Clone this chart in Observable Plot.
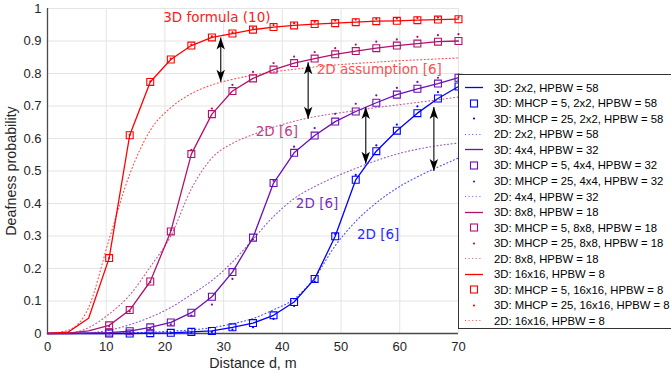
<!DOCTYPE html>
<html><head><meta charset="utf-8">
<script src="https://cdn.jsdelivr.net/npm/d3@7"></script>
<script src="https://cdn.jsdelivr.net/npm/@observablehq/plot@0.6"></script>
<style>
html,body{margin:0;padding:0;background:#fff;overflow:hidden}
#wrap{position:relative;width:671px;height:373px;font-family:"Liberation Sans",Arial,sans-serif}
#legend{position:absolute;left:458px;top:74px;width:240px;height:255px;border:1px solid #333;background:#fff;box-sizing:border-box;overflow:hidden}
.row{position:absolute;left:0;height:15px;display:flex;align-items:center;font-size:11.3px;color:#000;white-space:nowrap}
.row svg{width:30px;height:15px;margin-left:4px;margin-right:1px;flex:none}
svg g[aria-label="x-axis label"] text, svg g[aria-label="y-axis label"] text{font-size:14.3px}
</style></head>
<body><div id="wrap"><div id="plot"></div><div id="legend"></div></div>
<script>
// ---- data ----
const distance = [0,3.5,7,10.5,14,17.5,21,24.5,28,31.5,35,38.5,42,45.5,49,52.5,56,59.5,63,66.5,70];
const markerDistance = [10.5,14,17.5,21,24.5,28,31.5,35,38.5,42,45.5,49,52.5,56,59.5,63,66.5,70];

// 2x2, HPBW = 58
const blue3D   = [0,0,0,0,0,0.001,0.002,0.005,0.008,0.019,0.032,0.056,0.097,0.168,0.299,0.473,0.561,0.624,0.678,0.723,0.760];
const blue25   = [0,0,0,0.001,0.003,0.005,0.012,0.019,0.045,0.085,0.160,0.306,0.488,0.579,0.643,0.699,0.743,0.780];
const blue2D   = [0,0,0,0.001,0.002,0.004,0.007,0.011,0.018,0.030,0.046,0.073,0.106,0.172,0.270,0.345,0.402,0.447,0.482,0.512,0.540];
// 4x4, HPBW = 32
const purple3D = [0,0,0.001,0.003,0.007,0.019,0.034,0.064,0.113,0.189,0.295,0.463,0.556,0.609,0.652,0.683,0.710,0.735,0.753,0.769,0.787];
const purple25 = [0.001,0.004,0.015,0.028,0.055,0.089,0.168,0.290,0.470,0.575,0.632,0.676,0.707,0.733,0.756,0.774,0.787,0.797];
const purple2D = [0,0,0.002,0.010,0.027,0.050,0.080,0.120,0.163,0.220,0.290,0.360,0.415,0.452,0.482,0.508,0.532,0.552,0.567,0.578,0.586];
// 8x8, HPBW = 18
const magenta3D = [0,0.001,0.008,0.025,0.072,0.160,0.314,0.552,0.675,0.746,0.785,0.812,0.832,0.846,0.859,0.869,0.878,0.886,0.892,0.898,0.900];
const magenta25 = [0.022,0.068,0.158,0.318,0.565,0.692,0.765,0.805,0.832,0.852,0.866,0.878,0.889,0.898,0.905,0.913,0.918,0.921];
const magenta2D = [0,0.001,0.018,0.060,0.118,0.205,0.300,0.445,0.540,0.585,0.612,0.635,0.653,0.667,0.677,0.686,0.695,0.703,0.711,0.719,0.728];
// 16x16, HPBW = 8
const red3D   = [0,0.004,0.047,0.232,0.610,0.774,0.843,0.886,0.911,0.923,0.935,0.943,0.948,0.952,0.955,0.958,0.961,0.962,0.964,0.966,0.967];
const red25   = [0.232,0.611,0.776,0.846,0.889,0.914,0.927,0.940,0.949,0.955,0.959,0.963,0.966,0.968,0.969,0.971,0.972,0.973];
const red2D   = [0,0.010,0.080,0.290,0.490,0.625,0.695,0.738,0.765,0.782,0.795,0.805,0.813,0.820,0.826,0.831,0.835,0.839,0.842,0.845,0.848];

// double arrows
const arrowX      = [29.5, 44.4, 54.2, 65.8];
const arrowTop    = [0.911, 0.835, 0.697, 0.697];
const arrowBottom = [0.775, 0.661, 0.522, 0.500];

// annotations
const noteText = ["3D formula (10)", "2D assumption [6]", "2D [6]", "2D [6]", "2D [6]"];
const noteX    = [19.7, 45.85, 35.45, 42.3, 52.7];
const noteY    = [0.972, 0.813, 0.621, 0.400, 0.304];

// ticks
const xTicks = [0,10,20,30,40,50,60,70];
const yTicks = [0,0.1,0.2,0.3,0.4,0.5,0.6,0.7,0.8,0.9,1];

// legend labels
const legendLabels = [
  "3D: 2x2, HPBW = 58", "3D: MHCP = 5, 2x2, HPBW = 58", "3D: MHCP = 25, 2x2, HPBW = 58", "2D: 2x2, HPBW = 58",
  "3D: 4x4, HPBW = 32", "3D: MHCP = 5, 4x4, HPBW = 32", "3D: MHCP = 25, 4x4, HPBW = 32", "2D: 4x4, HPBW = 32",
  "3D: 8x8, HPBW = 18", "3D: MHCP = 5, 8x8, HPBW = 18", "3D: MHCP = 25, 8x8, HPBW = 18", "2D: 8x8, HPBW = 18",
  "3D: 16x16, HPBW = 8", "3D: MHCP = 5, 16x16, HPBW = 8", "3D: MHCP = 25, 16x16, HPBW = 8", "2D: 16x16, HPBW = 8"
];

// ---- styles ----
const colors = ["#0000ff", "#6a10b4", "#b0136c", "#ff0000"];
const noteColors = ["#ff2020", "#ff5050", "#c23c86", "#7b2cc0", "#2a2aff"];

const groups = [
  {line: blue3D, m25: blue25, d2: blue2D},
  {line: purple3D, m25: purple25, d2: purple2D},
  {line: magenta3D, m25: magenta25, d2: magenta2D},
  {line: red3D, m25: red25, d2: red2D}
];

const toRows = (xs, ys) => xs.map((d, i) => ({d, p: ys[i]}));

const arrowUp = {draw(c){ c.moveTo(0,0); c.lineTo(-4.2,12); c.lineTo(0,9); c.lineTo(4.2,12); c.closePath(); }};
const arrowDown = {draw(c){ c.moveTo(0,0); c.lineTo(-4.2,-12); c.lineTo(0,-9); c.lineTo(4.2,-12); c.closePath(); }};
const arrows = arrowX.map((x, i) => ({x, top: arrowTop[i], bottom: arrowBottom[i]}));
const notes = noteText.map((t, i) => ({t, x: noteX[i], y: noteY[i], c: noteColors[i]}));

const marks = [
  Plot.ruleX(xTicks, {stroke: "#e4e4e4", strokeWidth: 1}),
  Plot.ruleY(yTicks, {stroke: "#e4e4e4", strokeWidth: 1}),
  Plot.ruleX([0], {stroke: "#4a4a4a", strokeWidth: 1.3}),
  Plot.ruleY([0], {stroke: "#4a4a4a", strokeWidth: 1.3})
];
groups.forEach((g, k) => {
  const col = colors[k];
  marks.push(
    Plot.line(toRows(distance, g.line), {x: "d", y: "p", stroke: col, strokeWidth: 1.3}),
    Plot.dot(toRows(markerDistance, g.line.slice(3)), {x: "d", y: "p", symbol: "square", r: 3.9, stroke: col, fill: "none", strokeWidth: 1.1}),
    Plot.dot(toRows(markerDistance, g.m25), {x: "d", y: "p", r: 1.1, fill: col, stroke: "none"}),
    Plot.line(toRows(distance, g.d2), {x: "d", y: "p", stroke: col, strokeWidth: 1.1, strokeDasharray: "1,2.6", strokeOpacity: 0.7, curve: "monotone-x"})
  );
});
marks.push(
  Plot.link(arrows, {x1: "x", x2: "x", y1: "bottom", y2: "top", stroke: "#3a3a3a", strokeWidth: 1.4}),
  Plot.dot(arrows, {x: "x", y: "top", symbol: arrowUp, fill: "#000", stroke: "none"}),
  Plot.dot(arrows, {x: "x", y: "bottom", symbol: arrowDown, fill: "#000", stroke: "none"}),
  Plot.text(notes, {x: "x", y: "y", text: "t", fill: "c", textAnchor: "start", lineAnchor: "middle", fontSize: 13.5, fontFamily: "DejaVu Sans"})
);

const chart = Plot.plot({
  width: 671, height: 373,
  marginLeft: 47, marginRight: 213, marginTop: 8, marginBottom: 40,
  style: {fontFamily: "'Liberation Sans', Arial, sans-serif", fontSize: "13px", color: "#262626", background: "transparent", overflow: "visible"},
  x: {domain: [0, 70], ticks: xTicks, tickSize: 0, tickPadding: 8, label: "Distance d, m", labelAnchor: "center", labelOffset: 34, labelArrow: "none"},
  y: {domain: [0, 1], ticks: yTicks, tickSize: 0, tickPadding: 6, tickFormat: d => String(+d.toFixed(1)), label: "Deafness probability", labelAnchor: "center", labelOffset: 42, labelArrow: "none"},
  marks
});
document.getElementById("plot").appendChild(chart);

// ---- legend ----
const legend = d3.select("#legend");
legendLabels.forEach((lab, i) => {
  const col = colors[Math.floor(i / 4)];
  const kind = i % 4;
  const row = legend.append("div").attr("class", "row").style("top", (12.7 + i * 15.55 - 7.5) + "px");
  const s = row.append("svg").attr("viewBox", "0 0 30 15");
  if (kind === 0) s.append("line").attr("x1", 2).attr("x2", 20).attr("y1", 7.5).attr("y2", 7.5).attr("stroke", col).attr("stroke-width", 1.3);
  if (kind === 1) s.append("rect").attr("x", 7.5).attr("y", 4).attr("width", 7).attr("height", 7).attr("fill", "none").attr("stroke", col).attr("stroke-width", 1.1);
  if (kind === 2) s.append("circle").attr("cx", 11).attr("cy", 7.5).attr("r", 1.1).attr("fill", col);
  if (kind === 3) s.append("line").attr("x1", 2).attr("x2", 20).attr("y1", 7.5).attr("y2", 7.5).attr("stroke", col).attr("stroke-width", 1.1).attr("stroke-dasharray", "1,2.6").attr("stroke-opacity", 0.7);
  row.append("span").text(lab);
});
</script></body></html>
